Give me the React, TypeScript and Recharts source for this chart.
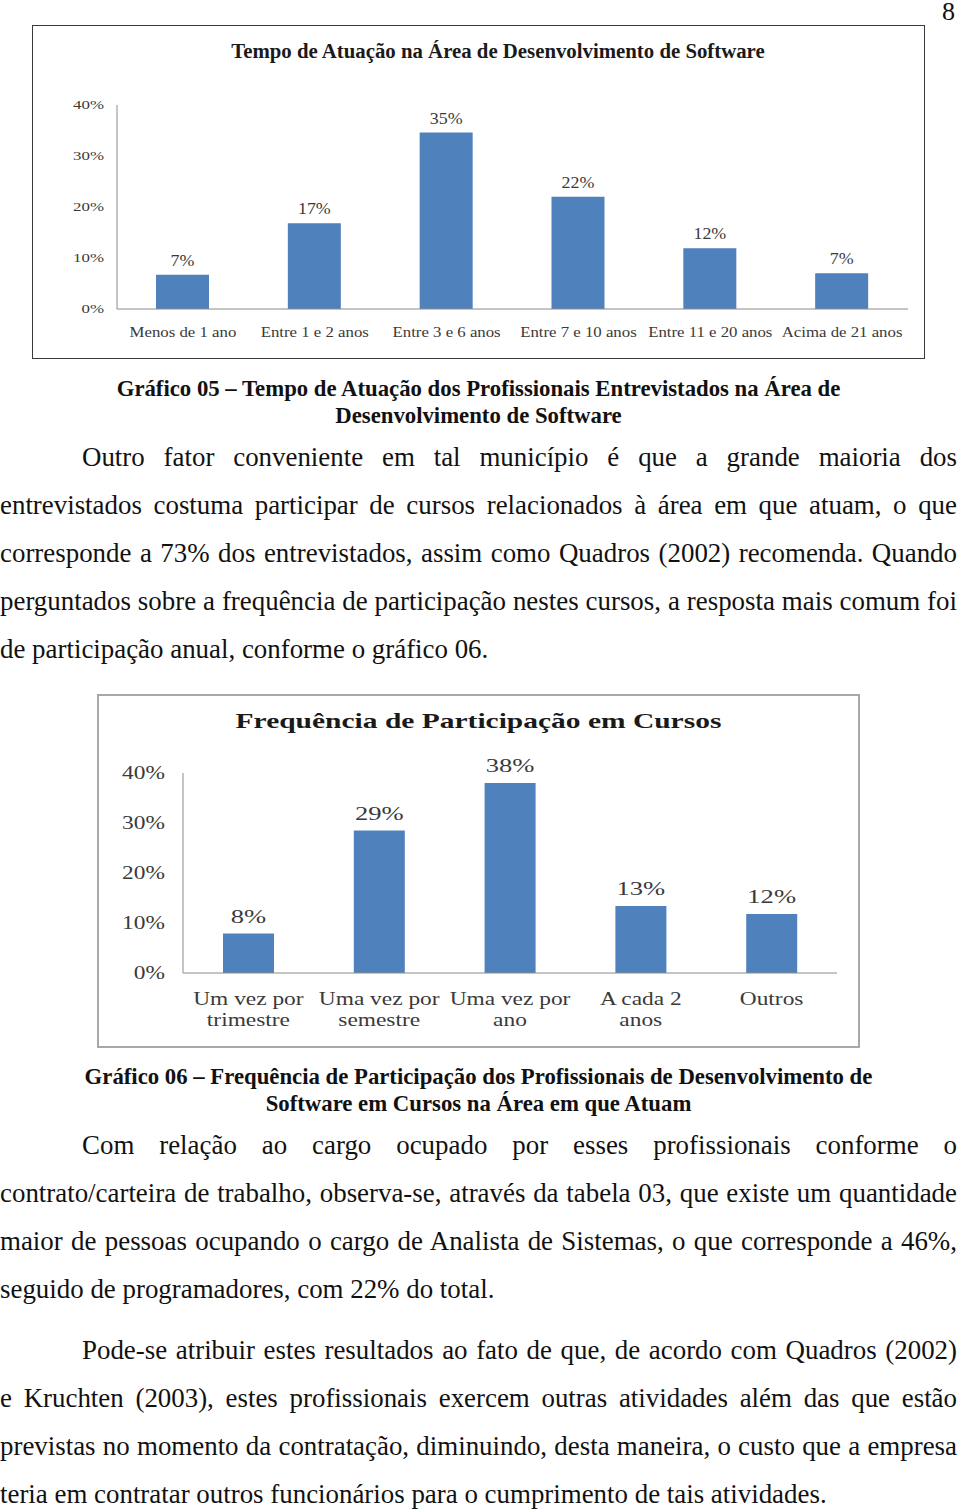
import React from 'react';
import { BarChart, Bar, XAxis, YAxis, LabelList } from 'recharts';

// Gráfico 05 – tempo de atuação
const tempoCategories = ['Menos de 1 ano', 'Entre 1 e 2 anos', 'Entre 3 e 6 anos', 'Entre 7 e 10 anos', 'Entre 11 e 20 anos', 'Acima de 21 anos'];
const tempoValues = [6.7, 16.8, 34.6, 22.0, 11.9, 7.0];
const tempoLabels = ['7%', '17%', '35%', '22%', '12%', '7%'];

// Gráfico 06 – frequência de participação
const freqCategories = ['Um vez por\ntrimestre', 'Uma vez por\nsemestre', 'Uma vez por\nano', 'A cada 2\nanos', 'Outros'];
const freqValues = [7.9, 28.5, 38.0, 13.4, 11.8];
const freqLabels = ['8%', '29%', '38%', '13%', '12%'];

const percentTicks = [0, 10, 20, 30, 40];

const para1 = [
  'Outro fator conveniente em tal município é que a grande maioria dos',
  'entrevistados costuma participar de cursos relacionados à área em que atuam, o que',
  'corresponde a 73% dos entrevistados, assim como Quadros (2002) recomenda. Quando',
  'perguntados sobre a frequência de participação nestes cursos, a resposta mais comum foi',
  'de participação anual, conforme o gráfico 06.',
];
const para2 = [
  'Com relação ao cargo ocupado por esses profissionais conforme o',
  'contrato/carteira de trabalho, observa-se, através da tabela 03, que existe um quantidade',
  'maior de pessoas ocupando o cargo de Analista de Sistemas, o que corresponde a 46%,',
  'seguido de programadores, com 22% do total.',
];
const para3 = [
  'Pode-se atribuir estes resultados ao fato de que, de acordo com Quadros (2002)',
  'e Kruchten (2003), estes profissionais exercem outras atividades além das que estão',
  'previstas no momento da contratação, diminuindo, desta maneira, o custo que a empresa',
  'teria em contratar outros funcionários para o cumprimento de tais atividades.',
];

const tempoData = tempoCategories.map((name, i) => ({ name, value: tempoValues[i], label: tempoLabels[i] }));
const freqData = freqCategories.map((name, i) => ({ name, value: freqValues[i], label: freqLabels[i] }));

const SERIF = '"Liberation Serif", "Times New Roman", serif';
const BAR = '#4F81BD';
const AXIS = '#8a8a8a';
const INK = '#3a3a3a';

// the scanned charts are stretched sideways, so text gets a scaleX
const makeXTick = (fontSize: number, sx: number, firstDy: number, lineGap: number) => (props: any) => {
  const { x, y, payload } = props;
  const lines = String(payload.value).split('\n');
  return (
    <g transform={`translate(${x},${y}) scale(${sx},1)`}>
      {lines.map((t, i) => (
        <text key={i} x={0} y={firstDy + i * lineGap} textAnchor="middle" fontSize={fontSize} fontFamily={SERIF} fill={INK}>
          {t}
        </text>
      ))}
    </g>
  );
};

const makeYTick = (fontSize: number, sx: number, dy: number) => (props: any) => {
  const { x, y, payload } = props;
  return (
    <g transform={`translate(${x},${y}) scale(${sx},1)`}>
      <text x={0} y={dy} textAnchor="end" fontSize={fontSize} fontFamily={SERIF} fill={INK}>
        {payload.value}%
      </text>
    </g>
  );
};

const makeLabel = (fontSize: number, sx: number, gap: number) => (props: any) => {
  const { x, y, width, value } = props;
  return (
    <g transform={`translate(${Number(x) + Number(width) / 2},${Number(y) - gap}) scale(${sx},1)`}>
      <text x={0} y={0} textAnchor="middle" fontSize={fontSize} fontFamily={SERIF} fill={INK}>
        {value}
      </text>
    </g>
  );
};

const TextBlock = ({ lines, top }: { lines: string[]; top: number }) => (
  <div style={{ position: 'absolute', left: 0, top, width: 957, fontFamily: SERIF, fontSize: 26.9, lineHeight: '48px', color: '#111' }}>
    {lines.map((l, i) => {
      const last = i === lines.length - 1;
      return (
        <div
          key={i}
          style={{
            width: 957,
            textIndent: i === 0 ? 82 : 0,
            textAlign: last ? 'left' : 'justify',
            textAlignLast: last ? 'left' : 'justify',
          }}
        >
          {l}
        </div>
      );
    })}
  </div>
);

const Caption = ({ lines, top }: { lines: string[]; top: number }) => (
  <div
    style={{
      position: 'absolute',
      left: 0,
      top,
      width: 957,
      textAlign: 'center',
      fontFamily: SERIF,
      fontWeight: 'bold',
      fontSize: 22.75,
      lineHeight: '27px',
      color: '#111',
    }}
  >
    {lines.map((l, i) => (
      <div key={i}>{l}</div>
    ))}
  </div>
);

export default function App() {
  return (
    <div style={{ position: 'relative', width: 960, height: 1511, background: '#fff' }}>
      <style>{'body{margin:0}'}</style>
      <div style={{ position: 'absolute', left: 942, top: -1, fontFamily: SERIF, fontSize: 26, lineHeight: '26px', color: '#111' }}>8</div>

      {/* Gráfico 05 */}
      <div style={{ position: 'absolute', left: 32, top: 25, width: 893, height: 334, boxSizing: 'border-box', border: '1px solid #3a3a3a' }} />
      <div
        style={{
          position: 'absolute',
          left: 32,
          top: 40,
          width: 932,
          textAlign: 'center',
          fontFamily: SERIF,
          fontWeight: 'bold',
          fontSize: 20,
          color: '#1a1a1a',
        }}
      >
        <div style={{ transform: 'scaleX(1.04)' }}>Tempo de Atuação na Área de Desenvolvimento de Software</div>
      </div>
      <div style={{ position: 'absolute', left: 32, top: 25 }}>
        <BarChart width={893} height={334} data={tempoData} margin={{ top: 80, right: 17, bottom: 0, left: 0 }}>
          <XAxis
            dataKey="name"
            height={50}
            axisLine={{ stroke: AXIS }}
            tickLine={false}
            tickSize={0}
            tickMargin={0}
            interval={0}
            tick={makeXTick(15, 1.12, 28, 0)}
          />
          <YAxis
            width={85}
            domain={[0, 40]}
            ticks={percentTicks}
            axisLine={{ stroke: AXIS }}
            tickLine={false}
            tickSize={0}
            tickMargin={13}
            tick={makeYTick(13, 1.3, 4)}
          />
          <Bar dataKey="value" fill={BAR} barSize={53} isAnimationActive={false}>
            <LabelList dataKey="label" content={makeLabel(16, 1.12, 9)} />
          </Bar>
        </BarChart>
      </div>

      <Caption top={375} lines={['Gráfico 05 – Tempo de Atuação dos Profissionais Entrevistados na Área de', 'Desenvolvimento de Software']} />

      <TextBlock top={433} lines={para1} />

      {/* Gráfico 06 */}
      <div style={{ position: 'absolute', left: 97, top: 694, width: 763, height: 354, boxSizing: 'border-box', border: '2px solid #a8a8a8' }} />
      <div
        style={{
          position: 'absolute',
          left: 97,
          top: 708,
          width: 763,
          textAlign: 'center',
          fontFamily: SERIF,
          fontWeight: 'bold',
          fontSize: 22,
          color: '#1a1a1a',
        }}
      >
        <div style={{ transform: 'scaleX(1.34)' }}>Frequência de Participação em Cursos</div>
      </div>
      <div style={{ position: 'absolute', left: 97, top: 694 }}>
        <BarChart width={763} height={354} data={freqData} margin={{ top: 79, right: 23, bottom: 0, left: 0 }}>
          <XAxis
            dataKey="name"
            height={75}
            axisLine={{ stroke: AXIS }}
            tickLine={false}
            tickSize={0}
            tickMargin={0}
            interval={0}
            tick={makeXTick(18, 1.3, 32, 21)}
          />
          <YAxis
            width={86}
            domain={[0, 40]}
            ticks={percentTicks}
            axisLine={{ stroke: AXIS }}
            tickLine={false}
            tickSize={0}
            tickMargin={18}
            tick={makeYTick(18, 1.3, 6)}
          />
          <Bar dataKey="value" fill={BAR} barSize={51} isAnimationActive={false}>
            <LabelList dataKey="label" content={makeLabel(19, 1.4, 11)} />
          </Bar>
        </BarChart>
      </div>

      <Caption top={1063} lines={['Gráfico 06 – Frequência de Participação dos Profissionais de Desenvolvimento de', 'Software em Cursos na Área em que Atuam']} />

      <TextBlock top={1121} lines={para2} />
      <TextBlock top={1326} lines={para3} />
    </div>
  );
}
